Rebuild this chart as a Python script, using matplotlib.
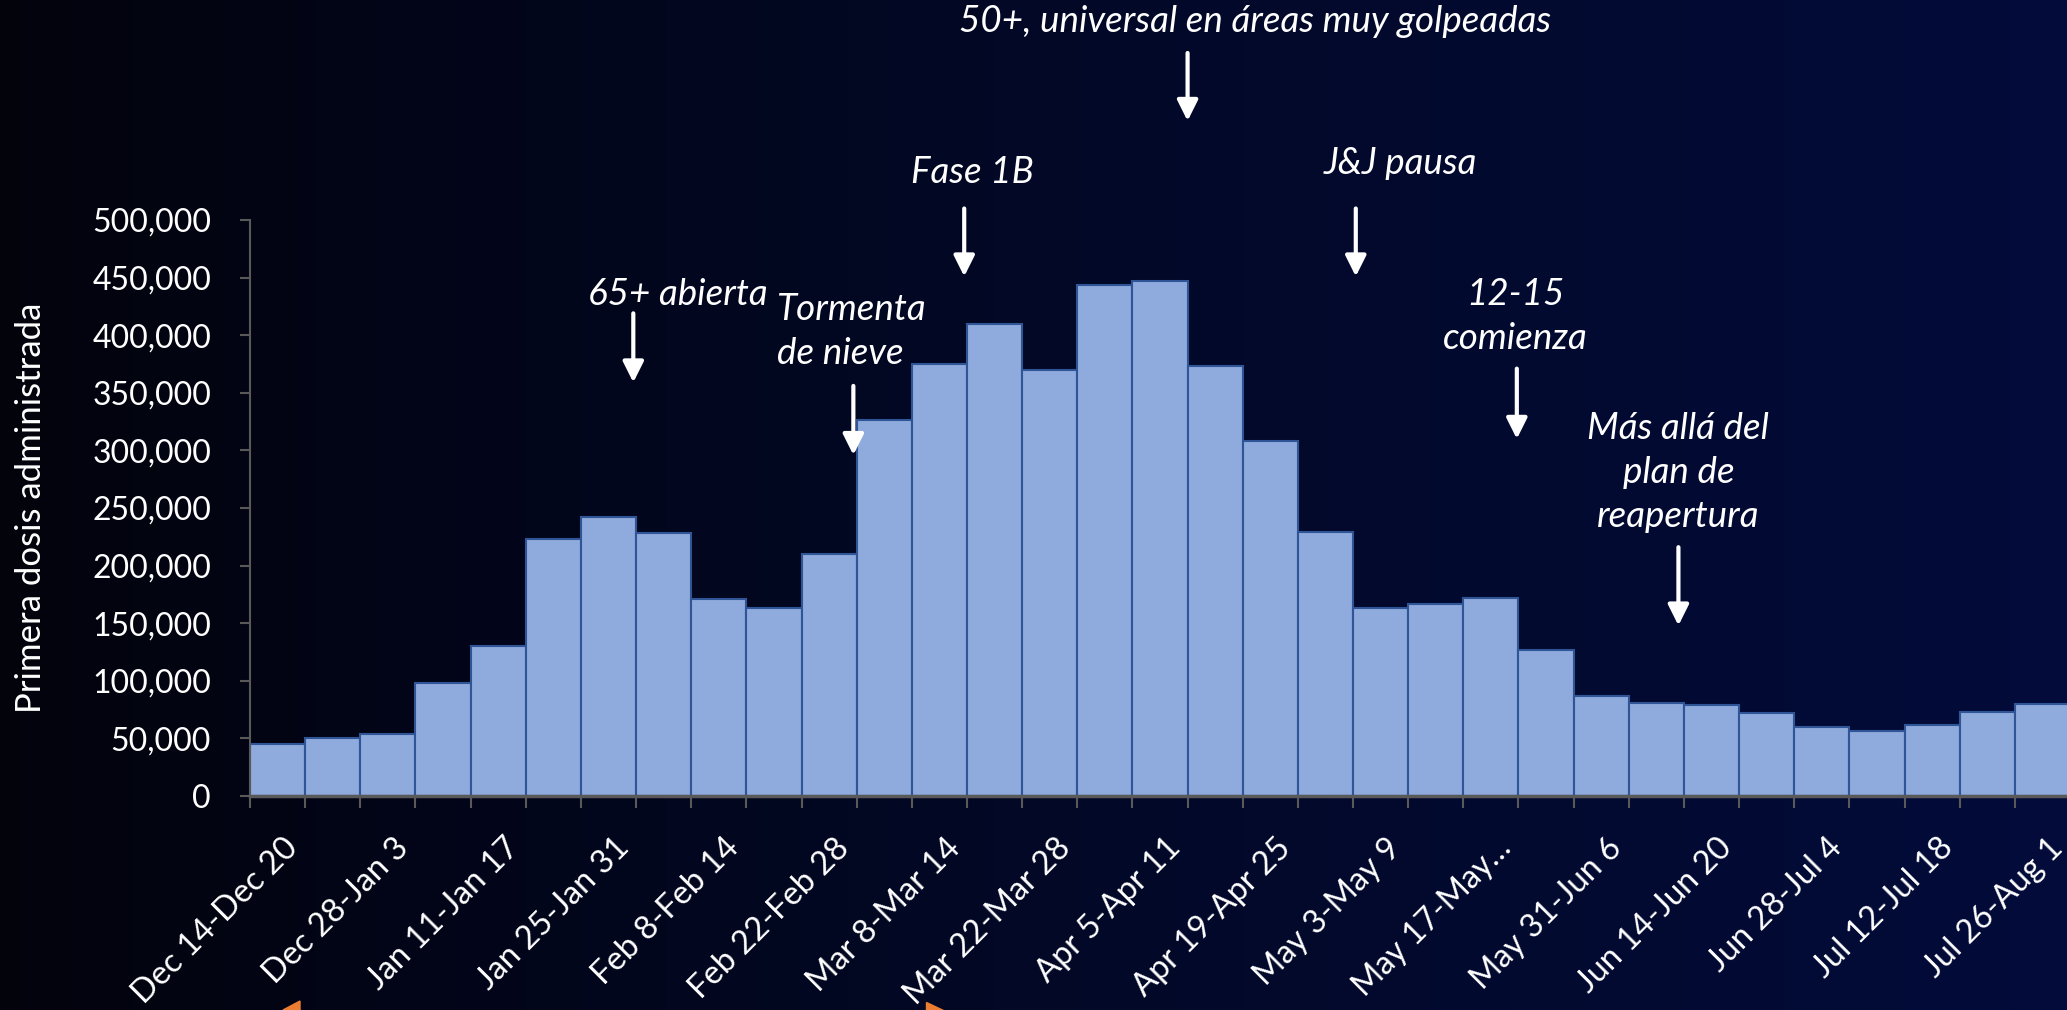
import numpy as np
import matplotlib
matplotlib.use('Agg')
import matplotlib.pyplot as plt
from matplotlib.patches import Polygon
from matplotlib.transforms import ScaledTranslation
from matplotlib.ticker import FuncFormatter

plt.rcParams['font.family'] = ['Lato', 'DejaVu Sans']

# Semanas (todas) y dosis
weeks = ['Dec 14-Dec 20', 'Dec 21-Dec 27', 'Dec 28-Jan 3', 'Jan 4-Jan 10', 'Jan 11-Jan 17',
         'Jan 18-Jan 24', 'Jan 25-Jan 31', 'Feb 1-Feb 7', 'Feb 8-Feb 14', 'Feb 15-Feb 21',
         'Feb 22-Feb 28', 'Mar 1-Mar 7', 'Mar 8-Mar 14', 'Mar 15-Mar 21', 'Mar 22-Mar 28',
         'Mar 29-Apr 4', 'Apr 5-Apr 11', 'Apr 12-Apr 18', 'Apr 19-Apr 25', 'Apr 26-May 2',
         'May 3-May 9', 'May 10-May 16', 'May 17-May…', 'May 24-May 30', 'May 31-Jun 6',
         'Jun 7-Jun 13', 'Jun 14-Jun 20', 'Jun 21-Jun 27', 'Jun 28-Jul 4', 'Jul 5-Jul 11',
         'Jul 12-Jul 18', 'Jul 19-Jul 25', 'Jul 26-Aug 1']
doses = [45000, 50000, 54000, 98000, 130000, 223000, 242000, 228000, 171000, 163000,
         210000, 326000, 375000, 410000, 370000, 444000, 447000, 373000, 308000, 229000,
         163000, 167000, 172000, 127000, 87000, 81000, 79000, 72000, 60000, 56000,
         62000, 73000, 80000]

# Anotaciones
annot_text = ['50+, universal en áreas muy golpeadas', 'Fase 1B', 'J&J pausa', '65+ abierta',
              'Tormenta\nde nieve', '12-15\ncomienza', 'Más allá del\nplan de\nreapertura']
annot_align = ['center', 'center', 'center', 'center', 'left', 'center', 'center']
annot_x = [17.73, 12.59, 20.36, 7.25, 10.41, 22.45, 25.4]
annot_y = [672000, 541000, 549000, 435000, 403000, 416000, 281000]
arrow_x = [16.5, 12.45, 19.55, 6.45, 10.44, 22.47, 25.4]
arrow_top = [645000, 510000, 510000, 419000, 356000, 371000, 216000]
arrow_bottom = [586000, 451000, 451000, 359000, 296000, 310000, 148000]

W, H = 2067, 1010
fig = plt.figure(figsize=(W / 100, H / 100), dpi=100)

# fondo degradado
bg = fig.add_axes([0, 0, 1, 1], zorder=-10)
t = np.linspace(0, 1, 512) ** 0.8
c0 = np.array([2, 3, 11]) / 255
c1 = np.array([3, 12, 58]) / 255
grad = (c0[None, :] * (1 - t[:, None]) + c1[None, :] * t[:, None])[None, :, :]
bg.imshow(grad, aspect='auto', extent=[0, 1, 0, 1])
bg.axis('off')

ax = fig.add_axes([250 / W, 214 / H, 1820 / W, 576 / H])
ax.set_facecolor('none')
x = np.arange(len(doses))
ax.bar(x, doses, width=1.0, color='#8FAADC', edgecolor='#2F5597', linewidth=1.5, zorder=2)

ax.set_xlim(-0.5, len(doses) - 0.5)
ax.set_ylim(0, 500000)
ax.set_yticks(np.arange(0, 500001, 50000))
ax.yaxis.set_major_formatter(FuncFormatter(lambda v, p: f'{v:,.0f}'))

for s in ['top', 'right']:
    ax.spines[s].set_visible(False)
ax.spines['left'].set_color('#595959')
ax.spines['left'].set_linewidth(1.5)
ax.spines['bottom'].set_color('#595959')
ax.spines['bottom'].set_linewidth(2.5)
ax.spines['bottom'].set_zorder(3)

ax.tick_params(axis='y', colors='#595959', labelcolor='white', labelsize=23,
               length=7, width=1.5, pad=21)
ax.set_xticks(x[::2])
ax.set_xticklabels(weeks[::2])
ax.set_xticks(np.arange(-0.5, len(doses)), minor=True)
ax.tick_params(axis='x', which='major', length=0, labelcolor='white', labelsize=23.5, pad=34)
ax.tick_params(axis='x', which='minor', length=8.5, width=1.5, colors='#595959')
offset = ScaledTranslation(16 / 100, 0, fig.dpi_scale_trans)
for lab in ax.get_xticklabels():
    lab.set_rotation(45)
    lab.set_ha('right')
    lab.set_va('center')
    lab.set_rotation_mode('anchor')
    lab.set_transform(lab.get_transform() + offset)

ax.set_ylabel('Primera dosis administrada', color='white', fontsize=25)
ax.yaxis.set_label_coords((47 - 250) / 1820, 0.5)

for txt, al, tx, ty, axx, yt, yb in zip(annot_text, annot_align, annot_x, annot_y,
                                         arrow_x, arrow_top, arrow_bottom):
    ax.text(tx, ty, txt, color='white', fontsize=26.5, style='italic', ha='center', va='center',
            multialignment=al, linespacing=1.4, clip_on=False)
    ax.annotate('', xy=(axx, yb), xytext=(axx, yt), annotation_clip=False,
                arrowprops=dict(arrowstyle='-|>,head_width=0.25,head_length=0.5', color='white',
                                lw=3, mutation_scale=25, shrinkA=0, shrinkB=0))

# restos de flechas naranjas al borde inferior
tri1 = [(283, 1010), (300, 1001), (300, 1010)]
tri2 = [(926, 1002), (926, 1010), (943, 1010)]
for tri in (tri1, tri2):
    pts = [(px / W, 1 - py / H) for px, py in tri]
    fig.patches.append(Polygon(pts, closed=True, color='#ED7D31', transform=fig.transFigure))

fig.savefig('out.png', dpi=100)
